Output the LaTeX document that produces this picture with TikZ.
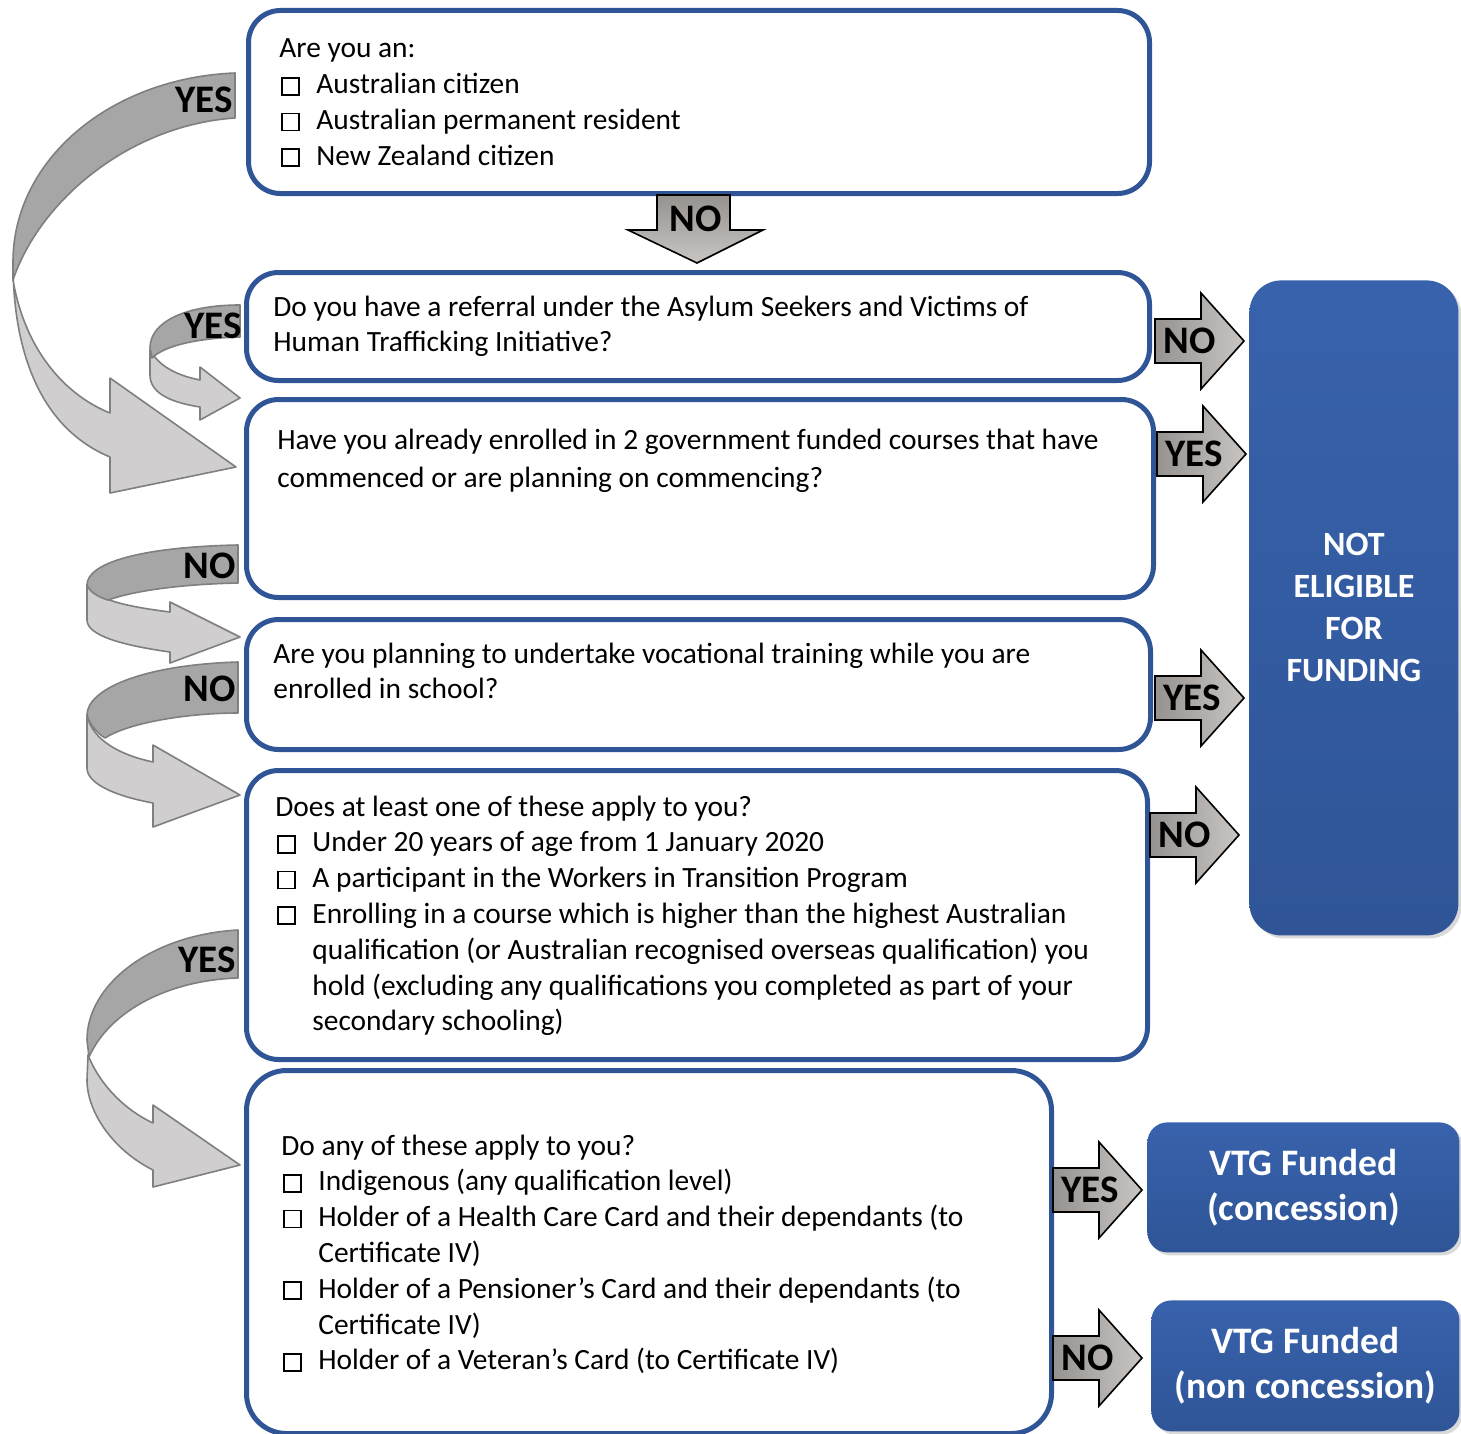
\documentclass[tikz,border=0pt]{standalone}
\usepackage{fontspec}
\setmainfont{Carlito}
\usetikzlibrary{shadows}

\definecolor{FrameBlue}{HTML}{2F5597}
\definecolor{ResultBlue}{HTML}{2F5597}
\definecolor{ResultTop}{HTML}{3862AC}
\definecolor{RibbonDark}{HTML}{A6A6A6}
\definecolor{RibbonLight}{HTML}{D0CECE}
\definecolor{RibbonLine}{HTML}{7F7F7F}
\definecolor{ArrowGrey}{HTML}{96928F}
\definecolor{ArrowPale}{HTML}{C8C5C2}

\def\QFont{\fontsize{14.7}{17.9}\selectfont}
\def\MarkFont{\bfseries\fontsize{19.5}{22}\selectfont}
\newcommand{\tickbox}{{\setlength{\fboxsep}{0pt}\setlength{\fboxrule}{0.9pt}%
  \fbox{\rule{0pt}{7.6pt}\rule{7.6pt}{0pt}}}}
\newcommand{\qitem}[1]{\makebox[18.5pt][l]{\hspace{1pt}\tickbox}#1}
\newcommand{\qcont}[1]{\hspace*{18.5pt}#1}

\begin{document}
\begin{tikzpicture}[x=0.5pt,y=-0.5pt,
  qbox/.style={draw=FrameBlue, line width=2.5pt, rounded corners=16pt,
    fill=white, anchor=north west, inner sep=0pt},
  qtext/.style={anchor=base west, inner sep=0pt, font=\QFont},
  resultbox/.style={anchor=north west, inner sep=0pt, text=white, align=center,
    top color=ResultTop, bottom color=ResultBlue,
    drop shadow={opacity=0.3, shadow xshift=1.5pt, shadow yshift=-1.5pt}},
  ribbonback/.style={fill=RibbonLight, draw=RibbonLine, line width=0.8pt, line join=round},
  ribbonfront/.style={fill=RibbonDark, draw=RibbonLine, line width=0.8pt, line join=round},
  blockarrow/.style={left color=ArrowGrey, right color=ArrowPale, draw=black, line width=0.8pt},
  armark/.style={inner sep=0pt, font=\MarkFont}]
  \useasboundingbox (0,0) rectangle (1461,1434);

  % --- Flechas curvas ---
  \draw[ribbonback] (13,280) .. controls (25,350) and (65,395) .. (110,413) -- (110,378)
    -- (236,467) -- (110,493) -- (110,457) .. controls (45,430) and (13,360) .. (13,262) -- cycle;
  \draw[ribbonfront] (235,73) .. controls (110,78) and (13,160) .. (13,262) -- (13,280)
    .. controls (40,200) and (130,125) .. (235,118) -- cycle;
  \node[armark, anchor=east] (yes1) at (233,100) {YES};

  \draw[ribbonback] (150,350) .. controls (160,368) and (180,376) .. (200,380) -- (200,367)
    -- (240,398) -- (200,420) -- (200,407) .. controls (168,402) and (150,392) .. (150,375) -- cycle;
  \draw[ribbonfront] (240,305) .. controls (185,305) and (150,322) .. (150,348) -- (152,358)
    .. controls (165,345) and (200,338) .. (240,337) -- cycle;
  \node[armark, anchor=east] (yes2) at (242,326) {YES};

  \draw[ribbonback] (87,585) .. controls (95,600) and (130,607) .. (170,612) -- (170,602)
    -- (240,637) -- (170,663) -- (170,652) .. controls (120,645) and (87,635) .. (87,620) -- cycle;
  \draw[ribbonfront] (238,545) .. controls (140,547) and (87,563) .. (87,585)
    .. controls (90,592) and (98,597) .. (108,600) .. controls (140,589) and (190,584) .. (238,583) -- cycle;
  \node[armark, anchor=east] (no3) at (236,566) {NO};

  \draw[ribbonback] (87,715) .. controls (92,740) and (120,755) .. (153,762) -- (153,745)
    -- (240,795) -- (153,827) -- (153,803) .. controls (110,795) and (87,782) .. (87,768) -- cycle;
  \draw[ribbonfront] (238,662) .. controls (140,665) and (87,690) .. (87,715)
    .. controls (90,725) and (97,733) .. (105,738) .. controls (130,722) and (190,713) .. (238,713) -- cycle;
  \node[armark, anchor=east] (no4) at (236,689) {NO};

  \draw[ribbonback] (88,1055) .. controls (100,1085) and (125,1110) .. (153,1123) -- (153,1105)
    -- (240,1165) -- (153,1187) -- (153,1170) .. controls (113,1150) and (87,1112) .. (87,1080) -- cycle;
  \draw[ribbonfront] (238,930) .. controls (150,935) and (87,985) .. (87,1040) -- (89,1057)
    .. controls (110,1010) and (170,980) .. (238,978) -- cycle;
  \node[armark, anchor=east] (yes5) at (236,960) {YES};

  % --- Preguntas ---
  \node[qbox, minimum width=450.5pt, minimum height=91.5pt] (q1) at (246,8) {};
  \node[qbox, minimum width=451.5pt, minimum height=54pt] (q2) at (244,270) {};
  \node[qbox, minimum width=453.5pt, minimum height=99pt] (q3) at (244,397) {};
  \node[qbox, minimum width=452pt, minimum height=65pt] (q4) at (244,617) {};
  \node[qbox, minimum width=450.5pt, minimum height=144.5pt] (q5) at (244,768) {};
  \node[qbox, minimum width=402.5pt, minimum height=181.5pt, rounded corners=20pt] (q6) at (244,1068) {};

  \node[qtext] (q1txt) at (279,58) {\parbox[t]{440pt}{Are you an:\\
    \qitem{Australian citizen}\\
    \qitem{Australian permanent resident}\\
    \qitem{New Zealand citizen}}};
  \node[qtext] (q2txt) at (273,316) {\parbox[t]{440pt}{Do you have a referral under the Asylum Seekers and Victims of\\
    Human Trafficking Initiative?}};
  \node[qtext] (q3txt) at (277,449) {\parbox[t]{440pt}{\fontsize{14.7}{19}\selectfont
    Have you already enrolled in 2 government funded courses that have\\
    commenced or are planning on commencing?}};
  \node[qtext] (q4txt) at (273,663) {\parbox[t]{440pt}{Are you planning to undertake vocational training while you are\\
    enrolled in school?}};
  \node[qtext] (q5txt) at (275,816) {\parbox[t]{440pt}{Does at least one of these apply to you?\\
    \qitem{Under 20 years of age from 1 January 2020}\\
    \qitem{A participant in the Workers in Transition Program}\\
    \qitem{Enrolling in a course which is higher than the highest Australian}\\
    \qcont{qualification (or Australian recognised overseas qualification) you}\\
    \qcont{hold (excluding any qualifications you completed as part of your}\\
    \qcont{secondary schooling)}}};
  \node[qtext] (q6txt) at (281,1155) {\parbox[t]{440pt}{Do any of these apply to you?\\
    \qitem{Indigenous (any qualification level)}\\
    \qitem{Holder of a Health Care Card and their dependants (to}\\
    \qcont{Certificate IV)}\\
    \qitem{Holder of a Pensioner’s Card and their dependants (to}\\
    \qcont{Certificate IV)}\\
    \qitem{Holder of a Veteran’s Card (to Certificate IV)}}};

  % --- Resultados ---
  \node[resultbox, rounded corners=16pt, minimum width=104.5pt, minimum height=327.5pt,
    font=\bfseries\fontsize{17}{21}\selectfont] (noteligible) at (1249,280) {NOT\\ELIGIBLE\\FOR\\FUNDING};
  \node[resultbox, rounded corners=10pt, minimum width=156pt, minimum height=65pt,
    font=\bfseries\fontsize{18.7}{22.5}\selectfont] (vtgcon) at (1147,1122) {VTG Funded\\(concession)};
  \node[resultbox, rounded corners=10pt, minimum width=154pt, minimum height=65.5pt,
    font=\bfseries\fontsize{18.7}{22.5}\selectfont] (vtgnon) at (1151,1300) {VTG Funded\\(non concession)};

  % --- Flechas de bloque ---
  \draw[blockarrow, top color=ArrowGrey, bottom color=ArrowPale]
    (657,195) -- (730,195) -- (730,230) -- (763,230) -- (697,263) -- (628,230) -- (657,230) -- cycle;
  \node[armark] (no2) at (696,219) {NO};

  \foreach \x/\y/\lab in {%
    1155/341/NO,
    1157/454/YES,
    1155/698/YES,
    1150/835/NO,
    1053/1190/YES,
    1053/1358/NO
  }{
    \draw[blockarrow] (\x,{\y-22}) -- ({\x+46},{\y-22}) -- ({\x+46},{\y-48}) -- ({\x+89},\y)
      -- ({\x+46},{\y+48}) -- ({\x+46},{\y+22}) -- (\x,{\y+22}) -- cycle;
    \node[armark, anchor=west] (mark\y) at ({\x+8},\y) {\lab};
  }
\end{tikzpicture}
\end{document}
